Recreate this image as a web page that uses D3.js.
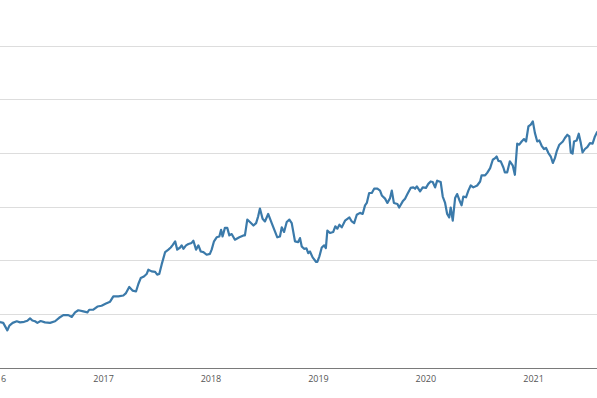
<!DOCTYPE html>
<html>
<head>
<meta charset="utf-8">
<script src="https://cdn.jsdelivr.net/npm/d3@7"></script>
<style>
  body { margin: 0; background: #fff; }
  svg { display: block; }
</style>
</head>
<body>
<div id="chart"></div>
<script>
var dates = [
  "2016-01-10","2016-01-17","2016-01-28","2016-02-11","2016-02-18","2016-02-29","2016-03-14","2016-03-25","2016-04-08","2016-04-19","2016-04-28",
  "2016-05-06","2016-05-15","2016-05-23","2016-06-03","2016-06-18","2016-07-05","2016-07-22","2016-08-05","2016-08-19","2016-09-05",
  "2016-09-17","2016-09-28","2016-10-09","2016-10-26","2016-11-09","2016-11-15","2016-11-29","2016-12-13","2016-12-27",
  "2017-01-11","2017-01-25","2017-02-05","2017-02-22","2017-03-11","2017-03-20","2017-03-31","2017-04-12","2017-04-23","2017-05-01",
  "2017-05-09","2017-05-20","2017-05-29","2017-06-04","2017-06-15","2017-06-27","2017-07-04","2017-07-11","2017-07-19","2017-07-31",
  "2017-08-11","2017-08-19","2017-08-26","2017-09-03","2017-09-10","2017-09-20","2017-09-25","2017-10-01","2017-10-10","2017-10-18",
  "2017-10-29","2017-11-04","2017-11-13","2017-11-21","2017-11-29","2017-12-08","2017-12-19","2017-12-30",
  "2018-01-05","2018-01-13","2018-01-22","2018-01-31","2018-02-06","2018-02-11","2018-02-19","2018-02-27","2018-03-06","2018-03-14",
  "2018-03-25","2018-04-09","2018-04-23","2018-04-28","2018-05-06","2018-05-15","2018-05-27","2018-06-05","2018-06-12","2018-06-18",
  "2018-06-27","2018-07-05","2018-07-16","2018-07-28","2018-08-08","2018-08-16","2018-08-25","2018-08-31","2018-09-08","2018-09-17",
  "2018-09-26","2018-10-04","2018-10-15","2018-10-26","2018-11-01","2018-11-07","2018-11-15","2018-11-23","2018-11-29","2018-12-05",
  "2018-12-14","2018-12-26","2018-12-30",
  "2019-01-06","2019-01-14","2019-01-22","2019-01-28","2019-02-02","2019-02-11","2019-02-22","2019-03-01","2019-03-08","2019-03-15",
  "2019-03-23","2019-04-03","2019-04-18","2019-04-26","2019-05-04","2019-05-13","2019-05-24","2019-06-02","2019-06-10","2019-06-16",
  "2019-06-24","2019-07-03","2019-07-11","2019-07-22","2019-07-31","2019-08-06","2019-08-17","2019-08-25","2019-09-03","2019-09-09",
  "2019-09-16","2019-09-28","2019-10-04","2019-10-16","2019-10-24","2019-11-01","2019-11-12","2019-11-21","2019-11-27","2019-12-03",
  "2019-12-14","2019-12-23",
  "2020-01-03","2020-01-11","2020-01-19","2020-01-26","2020-02-03","2020-02-10","2020-02-22","2020-02-29","2020-03-08","2020-03-15",
  "2020-03-22","2020-03-27","2020-04-03","2020-04-11","2020-04-18","2020-04-25","2020-05-03","2020-05-09","2020-05-18","2020-05-26",
  "2020-06-03","2020-06-12","2020-06-25","2020-07-05","2020-07-10","2020-07-22","2020-07-29","2020-08-08","2020-08-17","2020-08-25",
  "2020-08-30","2020-09-05","2020-09-13","2020-09-22","2020-09-27","2020-10-05","2020-10-14","2020-10-24","2020-10-31","2020-11-08",
  "2020-11-15","2020-11-23","2020-12-01","2020-12-08","2020-12-16","2020-12-24","2020-12-31",
  "2021-01-07","2021-01-15","2021-01-22","2021-01-30","2021-02-07","2021-02-14","2021-02-22","2021-03-02","2021-03-09","2021-03-16",
  "2021-03-22","2021-03-31","2021-04-12","2021-04-19","2021-04-27","2021-05-04","2021-05-09","2021-05-15","2021-05-20","2021-05-29",
  "2021-06-05","2021-06-12","2021-06-18","2021-06-26","2021-07-04","2021-07-13","2021-07-22","2021-07-30","2021-08-06","2021-08-13"
];

var values = [
  17.4,17.0,16.7,13.9,15.7,16.7,17.3,16.9,17.1,17.5,18.4,
  17.6,17.3,16.7,17.4,16.9,16.7,17.3,18.6,19.6,19.6,
  18.9,20.6,21.4,21.0,20.6,21.6,21.6,22.8,23.1,
  23.9,24.6,26.6,26.6,26.9,27.8,30.1,28.7,28.4,31.2,
  33.4,34.0,34.9,36.5,35.9,35.7,34.7,34.9,38.4,43.1,
  44.0,44.8,45.8,47.1,44.0,44.8,45.6,44.3,45.6,46.1,
  46.5,47.3,44.0,45.6,43.3,43.1,42.1,42.4,
  44.0,47.1,48.6,48.9,51.4,48.9,52.1,52.1,49.3,49.8,
  47.7,48.6,49.3,49.3,55.2,54.3,53.0,53.9,56.4,59.3,
  55.5,54.5,57.3,53.9,50.8,48.6,48.9,52.3,50.6,54.3,
  55.2,53.9,47.1,46.8,48.3,45.2,44.3,44.5,42.7,43.3,
  41.1,39.4,39.4,
  41.5,44.8,45.6,44.6,51.1,50.2,50.6,52.7,51.8,53.3,
  52.3,54.8,56.0,54.5,53.9,57.0,57.7,57.3,60.5,61.4,
  65.1,65.1,66.7,66.7,66.0,64.2,63.0,61.4,63.2,66.0,
  61.4,61.0,59.7,62.0,63.0,64.7,67.0,67.2,66.7,67.6,
  65.7,67.2,
  67.0,68.5,69.4,69.2,67.2,69.7,69.2,63.8,61.4,57.3,
  56.0,59.7,54.8,63.2,64.7,62.6,60.5,63.8,63.5,66.0,
  67.9,67.2,67.9,69.4,71.7,71.7,72.6,74.4,77.5,78.1,
  78.7,77.1,76.9,74.6,72.8,72.8,76.9,75.3,71.9,83.5,
  83.1,84.3,85.2,84.3,89.9,90.6,91.8,
  87.5,84.3,84.7,82.7,81.5,81.9,80.0,78.7,76.3,78.1,
  80.6,83.1,84.3,85.6,86.8,86.2,80.2,79.8,84.3,84.7,
  87.2,83.7,80.2,81.5,82.2,83.7,83.5,86.2,87.7,88.5
];

var years = ["2016", "2017", "2018", "2019", "2020", "2021"];
var gridValues = [20, 40, 60, 80, 100, 120];
var xStart = "2016-01-17", xEnd = "2021-08-06";

var width = 597,
    height = 398;

var parse = d3.timeParse("%Y-%m-%d");
var parseYear = d3.timeParse("%Y");
var data = dates.map((d, i) => ({date: parse(d), value: values[i]}));

var svg = d3.select("#chart")
            .append("svg")
            .attr("width", width)
            .attr("height", height);

var x = d3.scaleTime()
          .domain([parse(xStart), parse(xEnd)])
          .range([0, width]);

var y = d3.scaleLinear()
          .domain([0, 120])
          .range([367.7, 45.7]);

// horizontal gridlines
svg.append("g")
   .selectAll("line")
   .data(gridValues)
   .enter()
   .append("line")
   .attr("x1", 0)
   .attr("x2", width)
   .attr("y1", (d) => Math.round(y(d)) + 0.5)
   .attr("y2", (d) => Math.round(y(d)) + 0.5)
   .style("stroke", "#dddddd")
   .style("stroke-width", 1);

// bottom axis, year labels only (2016 sits partly off the left edge)
var xAxis = svg.append("g")
   .attr("transform", `translate(0,${Math.round(y(0)) + 0.5})`)
   .call(d3.axisBottom(x)
           .tickValues(years.map(parseYear))
           .tickFormat(d3.timeFormat("%Y"))
           .tickSize(0)
           .tickPadding(7));

xAxis.select(".domain")
     .attr("d", `M-10,0H${width + 10}`)
     .style("stroke", "#7a7a7a")
     .style("stroke-width", 1);

xAxis.selectAll("text")
     .style("font-family", "'Open Sans', sans-serif")
     .style("font-size", "9px")
     .style("fill", "#555555");

var line = d3.line()
             .x((d) => x(d.date))
             .y((d) => y(d.value));

svg.append("path")
   .datum(data)
   .attr("d", line)
   .style("fill", "none")
   .style("stroke", "#3b7aaa")
   .style("stroke-width", 2.2)
   .style("stroke-linejoin", "round");
</script>
</body>
</html>
